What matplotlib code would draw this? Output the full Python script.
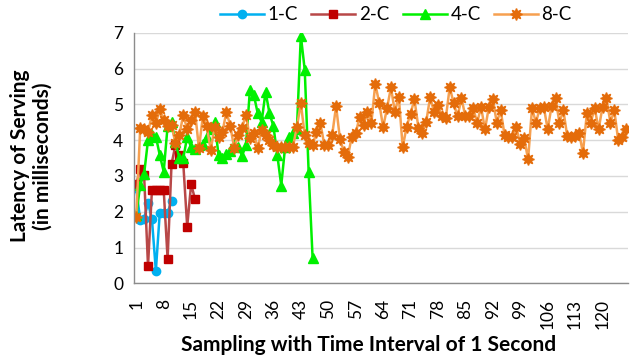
import matplotlib
matplotlib.use('Agg')
import matplotlib.pyplot as plt
import numpy as np

plt.rcParams['font.family'] = ['Lato', 'DejaVu Sans']

series_names = ['1-C', '2-C', '4-C', '8-C']

lat_1c = [2.65, 1.77, 1.8, 2.25, 1.79, 0.35, 1.97, 1.97, 1.97, 2.3]

lat_2c = [2.76, 3.2, 3.03, 0.48, 2.6, 2.62, 2.62, 2.62, 0.68, 3.33, 3.86, 3.58,
          3.35, 1.58, 2.77, 2.35]

lat_4c = [1.9, 2.75, 3.05, 4.0, 4.15, 4.1, 3.58, 3.12, 4.39, 4.5, 3.95, 3.49,
          3.49, 4.1, 3.8, 3.75, 3.85, 3.9, 4.1, 4.3, 4.5, 3.58, 3.49, 3.6,
          3.7, 3.9, 3.82, 3.56, 3.86, 5.4, 5.26, 4.75, 4.51, 5.35, 4.75, 4.39,
          3.58, 2.73, 3.82, 4.1, 4.2, 4.3, 6.92, 5.96, 3.1, 0.72]

lat_8c = [1.86, 4.33, 4.3, 4.23, 4.7, 4.47, 4.86, 4.56, 4.39, 4.42, 3.91, 4.15,
          4.7, 4.3, 4.55, 4.79, 3.77, 4.67, 4.38, 3.72, 4.37, 4.1, 4.23, 4.79,
          4.4, 3.77, 4.14, 4.35, 4.7, 4.05, 4.19, 3.77, 4.28, 4.14, 4.0, 3.85,
          3.82, 3.8, 3.8, 3.82, 3.82, 4.37, 5.03, 4.14, 3.91, 3.86, 4.23, 4.47,
          3.86, 3.86, 4.14, 4.95, 4.02, 3.68, 3.54, 4.1, 4.19, 4.64, 4.42, 4.79,
          4.47, 5.57, 5.04, 4.36, 4.89, 5.47, 4.79, 5.21, 3.8, 4.37, 4.74, 5.14,
          4.35, 4.2, 4.51, 5.2, 4.78, 4.98, 4.66, 4.61, 5.48, 5.03, 4.66, 5.17,
          4.66, 4.68, 4.89, 4.49, 4.92, 4.3, 4.93, 5.15, 4.49, 4.83, 4.14, 4.1,
          4.1, 4.36, 3.89, 4.05, 3.46, 4.89, 4.49, 4.89, 4.93, 4.3, 4.95, 5.17,
          4.49, 4.83, 4.11, 4.1, 4.11, 4.2, 3.65, 4.75, 4.49, 4.9, 4.3, 4.93,
          5.17, 4.49, 4.83, 4.0, 4.1, 4.3]

x_tick_values = list(range(1, 121, 7))
x_tick_labels = [str(v) for v in x_tick_values]
y_ticks = list(range(0, 8))

x_title = 'Sampling with Time Interval of 1 Second'
y_title = 'Latency of Serving\n(in milliseconds)'

styles = [
    dict(color='#00B0F0', marker='o', ms=6, mfc='#00B0F0', mec='#00B0F0'),
    dict(color='#B84848', marker='s', ms=6, mfc='#C00000', mec='#C00000'),
    dict(color='#00F000', marker='^', ms=6.5, mfc='#00F000', mec='#00F000'),
    dict(color='#F6A050', marker=(8, 1, 0), ms=8.5, mfc='#E46C0A', mec='#E46C0A'),
]

W, H = 639, 362
fig = plt.figure(figsize=(W / 100, H / 100), dpi=100)
ax = fig.add_axes([134.3 / W, 1 - 283.3 / H, (628 - 134.3) / W, (283.3 - 32.7) / H])

for name, data, st in zip(series_names, [lat_1c, lat_2c, lat_4c, lat_8c], styles):
    xs = np.arange(1, len(data) + 1)
    ax.plot(xs, data, lw=1.8, label=name, **st)

ax.set_xlim(0.5, len(lat_8c) + 0.5)
ax.set_ylim(0, 7)
ax.set_yticks(y_ticks)
ax.set_yticklabels([str(v) for v in y_ticks], fontsize=12.5)
ax.set_xticks(x_tick_values)
ax.set_xticklabels(x_tick_labels, rotation=90, fontsize=12.5)
ax.tick_params(axis='x', length=0, pad=11)
ax.tick_params(axis='y', length=0, pad=8)
ax.grid(axis='y', color='#D9D9D9', lw=1)
ax.set_axisbelow(True)
for s in ['top', 'right']:
    ax.spines[s].set_visible(False)
for s in ['left', 'bottom']:
    ax.spines[s].set_color('#8C8C8C')
    ax.spines[s].set_linewidth(1)

fig.text(369 / W, 1 - 345 / H, x_title, fontsize=15, fontweight='bold',
         ha='center', va='center')
fig.text(31.5 / W, 1 - 156 / H, y_title, fontsize=15, fontweight='bold',
         ha='center', va='center', rotation=90, multialignment='center',
         linespacing=1.15)

leg = fig.legend(loc='center', bbox_to_anchor=(396 / W, 1 - 15 / H), ncol=4,
                 frameon=False, fontsize=13.5, handlelength=2.35, handletextpad=0.2,
                 columnspacing=0.7)

fig.savefig('out.png', dpi=100)
